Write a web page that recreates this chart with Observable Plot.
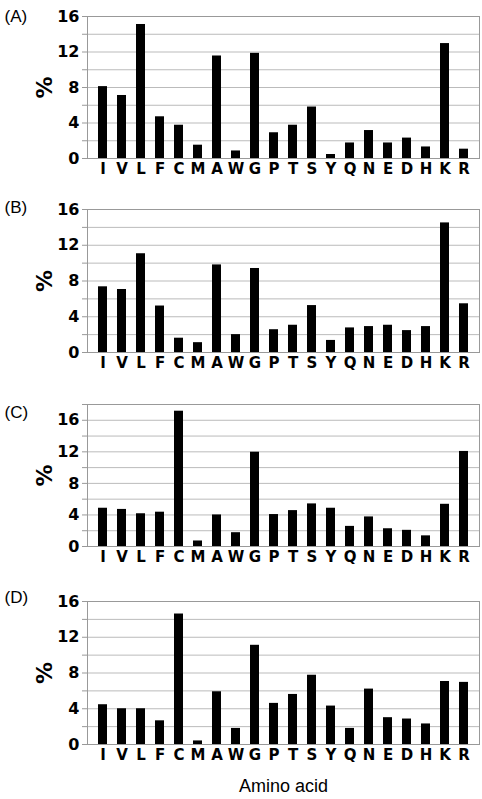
<!DOCTYPE html>
<html><head><meta charset="utf-8">
<script src="https://cdn.jsdelivr.net/npm/d3@7"></script>
<script src="https://cdn.jsdelivr.net/npm/@observablehq/plot@0.6"></script>
<style>body{margin:0;background:#fff;} #chart svg{display:block;}</style>
</head><body><div id="chart"></div>
<script>
const aminoAcids = ["I","V","L","F","C","M","A","W","G","P","T","S","Y","Q","N","E","D","H","K","R"];
const panelLabels = ["(A)","(B)","(C)","(D)"];
const valuesA = [8.1,7.1,15.1,4.7,3.75,1.5,11.55,0.85,11.85,2.9,3.75,5.8,0.45,1.75,3.15,1.75,2.3,1.3,12.95,1.05];
const valuesB = [7.35,7.05,11.05,5.2,1.6,1.1,9.8,2.0,9.4,2.55,3.05,5.25,1.35,2.75,2.9,3.05,2.45,2.9,14.5,5.45];
const valuesC = [4.85,4.7,4.15,4.35,17.15,0.7,4.0,1.75,11.95,4.05,4.55,5.4,4.85,2.55,3.75,2.25,2.05,1.35,5.35,12.05];
const valuesD = [4.45,4.0,4.0,2.65,14.6,0.4,5.9,1.8,11.1,4.6,5.6,7.75,4.3,1.8,6.2,3.0,2.85,2.3,7.05,6.95];
const yMax = [16,16,18,16];
const yAxisTitle = "%";
const xAxisTitle = "Amino acid";

const layouts = [
  {height:193, marginTop:16, marginBottom:35, labelDy:0},
  {height:195, marginTop:16, marginBottom:36, labelDy:-2},
  {height:196, marginTop:16, marginBottom:38, labelDy:8},
  {height:215, marginTop:17, marginBottom:55, labelDy:-4}
];
const allValues = [valuesA, valuesB, valuesC, valuesD];
const chart = document.getElementById("chart");

allValues.forEach((vals, i) => {
  const data = aminoAcids.map((aa, j) => ({aa, value: vals[j]}));
  const L = layouts[i];
  const ticks = d3.range(0, yMax[i] + 0.001, 2);
  const marks = [
    Plot.gridY(ticks, {stroke: "#bbb", strokeOpacity: 1}),
    Plot.barY(data, {x: "aa", y: "value", fill: "#000"}),
    Plot.frame({stroke: "#999"}),
    Plot.axisY(ticks, {tickSize: 5, tickPadding: 3, stroke: "#999", fill: "#000",
      tickFormat: d => d % 4 === 0 ? String(d) : "", fontSize: 16, fontWeight: "bold", label: null}),
    Plot.axisX({tickSize: 0, tickPadding: 5, fontSize: 15, fontWeight: "bold", fill: "#000", label: null}),
    Plot.text([yAxisTitle], {frameAnchor: "left", dx: -43, rotate: -90, lineAnchor: "middle",
      textAnchor: "middle", fontSize: 22, fontWeight: "bold", fill: "#000"}),
    Plot.text([panelLabels[i]], {frameAnchor: "top-left", dx: -83, dy: L.labelDy, textAnchor: "start",
      lineAnchor: "middle", fontFamily: "Liberation Sans", fontSize: 17, fill: "#000"})
  ];
  if (i === 3) {
    marks.push(Plot.text([xAxisTitle], {frameAnchor: "bottom", dy: 42, lineAnchor: "middle",
      textAnchor: "middle", fontFamily: "Liberation Sans", fontSize: 18, fill: "#000"}));
  }
  const p = Plot.plot({
    width: 482,
    height: L.height,
    marginLeft: 87,
    marginRight: 3,
    marginTop: L.marginTop,
    marginBottom: L.marginBottom,
    style: {fontFamily: "DejaVu Sans", background: "#fff", overflow: "visible"},
    x: {domain: aminoAcids, padding: 0.54, axis: null},
    y: {domain: [0, yMax[i]], axis: null},
    marks
  });
  chart.appendChild(p);
});
</script></body></html>
